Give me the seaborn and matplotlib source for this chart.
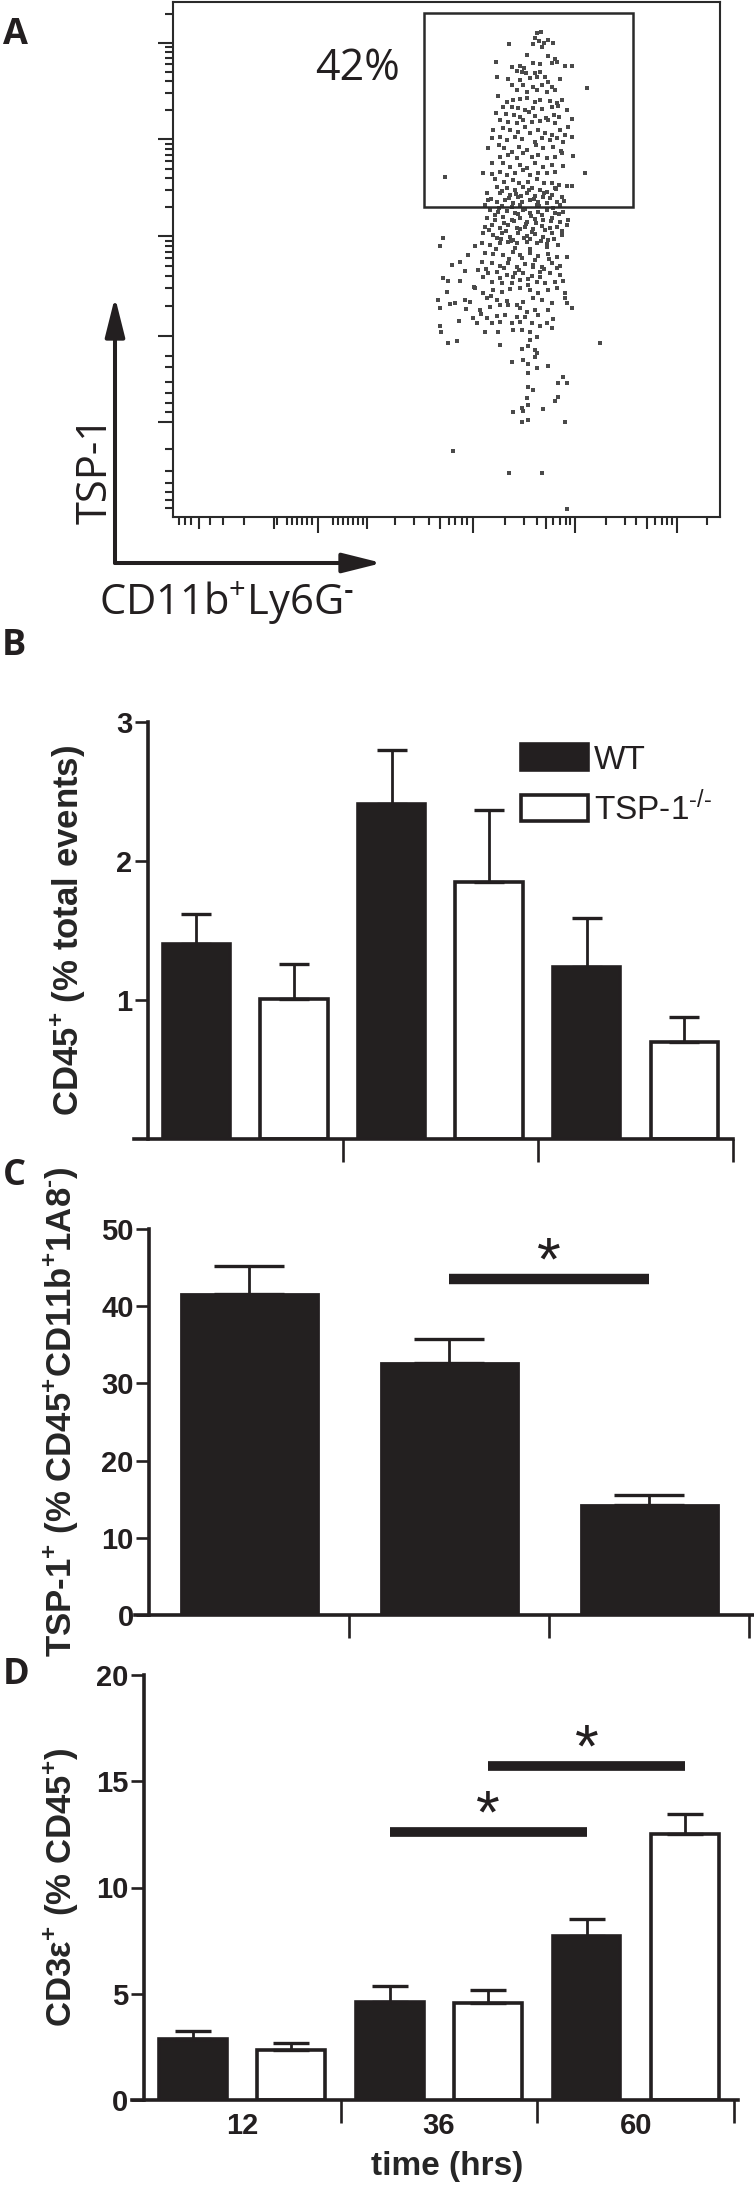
import numpy as np
import pandas as pd
import matplotlib
matplotlib.use("Agg")
import matplotlib.pyplot as plt
from matplotlib import font_manager as fm
from matplotlib.patches import Rectangle, FancyArrowPatch, Patch
import seaborn as sns

# ---------------- data ----------------
# A: flow cytometry events (channel units)
events_x = [
    364, 368, 362, 366, 371, 375, 380, 360, 369, 336,
    354, 375, 382, 384, 379, 323, 360, 367, 347, 339, 351, 392, 399,
    344, 349, 353, 362, 367, 372, 364, 357, 324, 335, 347, 387, 375, 339, 350, 360, 369, 379, 414, 344, 354, 364, 374, 382, 325,
    334, 340, 347, 354, 362, 367, 377, 384, 389, 330, 339, 345, 352, 360, 369, 379, 385, 394,
    323, 333, 341, 347, 356, 362, 373, 381, 386, 399, 327, 335, 344, 350, 359, 367, 375, 382, 395,
    320, 330, 337, 345, 352, 357, 365, 372, 379, 387, 392, 399, 319, 327, 334, 342, 349, 362, 369, 377, 384, 390,
    315, 326, 331, 339, 346, 354, 363, 370, 380, 388, 400, 327, 335, 344, 350, 359, 365, 374, 382, 389,
    319, 330, 337, 347, 354, 362, 370, 379, 390, 310, 319, 327, 334, 342, 350, 357, 365, 374, 382, 412, 272,
    322, 331, 340, 346, 355, 364, 371, 379, 386, 394, 399, 324, 334, 342, 350, 359, 367, 374, 382, 314, 327, 337, 345, 354, 362, 370, 379, 389,
    315, 324, 332, 340, 349, 357, 365, 374, 384, 312, 329, 347, 364, 387,
    317, 325, 334, 342, 350, 357, 365, 374, 382, 390, 314, 322, 330, 339, 347, 354, 362, 370, 379, 387, 395,
    312, 319, 327, 335, 344, 352, 360, 369, 377, 384, 394, 310, 320, 329, 337, 345, 354, 362, 370, 379, 389,
    270, 324, 340, 357, 375,
    267, 302, 309, 317, 327, 335, 344, 354, 364, 374, 385,
    295, 312, 320, 330, 340, 347, 357, 365, 375, 384, 394,
    279, 287, 309, 319, 327, 335, 344, 352, 360, 369, 379, 387,
    292, 305, 315, 324, 334, 342, 350, 359, 367, 377, 387,
    270, 275, 287, 310, 319, 329, 339, 347, 355, 364, 372, 382, 390,
    274, 302, 310, 320, 329, 337, 347, 357, 365, 375, 384, 392,
    265, 277, 282, 292, 297, 314, 324, 334, 344, 350, 360, 369, 379, 392, 394,
    267, 307, 317, 327, 335, 347, 354, 362, 375, 399,
    300, 314, 324, 332, 344, 352, 365, 374, 380, 304, 319, 327, 339, 347, 359, 367,
    267, 268, 312, 325, 340, 349, 357, 379, 364, 357, 275, 284, 327, 355, 349, 362, 364, 427,
    339, 350, 362, 355, 364, 375, 355, 390, 385, 394, 355, 360, 354, 385, 382, 355, 349, 340,
    350, 370, 349, 355, 392, 280,
    336, 369, 394,
    # denser core of the population
    329, 343, 356, 371, 383, 318, 336, 348, 361, 377, 391, 326, 339, 352, 366, 380,
    322, 345, 358, 369, 386, 331, 341, 353, 363, 378, 316, 333, 347, 359, 372, 389,
    328, 338, 351, 368, 381, 323, 342, 357, 374, 336, 349, 362, 376, 313, 331, 346,
    360, 371, 384, 327, 340, 355, 367, 301, 318, 293, 308, 286,
]
events_y = [
    484, 485, 479, 476, 474, 477, 474, 473, 470, 473,
    462, 461, 458, 455, 454, 455, 454, 453, 451, 450, 449, 451, 451,
    446, 445, 444, 444, 445, 440, 440, 439, 440, 438, 437, 438, 435, 432, 432, 430, 432, 430, 429, 427, 425, 427, 425, 427, 421,
    415, 417, 418, 419, 415, 417, 416, 414, 417, 410, 410, 409, 407, 409, 408, 410, 411, 407,
    404, 403, 402, 400, 405, 401, 399, 402, 400, 398, 397, 395, 394, 397, 395, 396, 397, 394, 390,
    387, 389, 387, 385, 390, 384, 387, 384, 382, 387, 382, 380, 379, 380, 377, 380, 378, 375, 379, 377, 379, 375,
    369, 372, 369, 365, 370, 367, 372, 369, 370, 366, 361, 360, 362, 359, 364, 360, 362, 359, 360, 364,
    354, 354, 350, 352, 349, 354, 350, 352, 351, 344, 343, 345, 342, 344, 347, 342, 344, 344, 345, 344, 340,
    338, 335, 337, 334, 335, 338, 334, 334, 332, 331, 331, 330, 329, 327, 330, 329, 327, 325, 329, 324, 324, 322, 320, 324, 321, 320, 322, 320,
    317, 315, 317, 314, 315, 317, 315, 314, 315, 312, 311, 312, 312, 312,
    307, 305, 306, 304, 307, 304, 305, 307, 304, 305, 299, 297, 300, 297, 299, 295, 298, 297, 299, 295, 297,
    290, 292, 289, 292, 289, 290, 288, 291, 289, 290, 292, 284, 282, 284, 280, 284, 281, 283, 280, 284, 282,
    279, 279, 277, 278, 277,
    271, 271, 274, 272, 274, 275, 274, 275, 274, 273, 272,
    262, 264, 263, 262, 265, 262, 264, 261, 263, 260, 260,
    252, 255, 255, 254, 251, 254, 250, 253, 252, 250, 254, 251,
    246, 247, 244, 245, 242, 244, 244, 241, 245, 244, 242,
    239, 236, 236, 240, 235, 234, 234, 237, 232, 235, 234, 235, 236,
    225, 229, 224, 227, 225, 228, 229, 227, 224, 227, 229, 224,
    217, 213, 214, 217, 215, 219, 217, 216, 212, 215, 219, 217, 214, 219, 214,
    209, 207, 210, 212, 212, 209, 205, 207, 207, 209,
    199, 199, 201, 202, 200, 200, 202, 194, 198, 194, 194, 195, 194, 195, 194, 191,
    191, 185, 185, 185, 187, 187, 185, 189, 180, 177, 174, 176, 172, 171, 168, 167, 164, 174,
    155, 157, 160, 153, 149, 151, 144, 140, 134, 134, 130, 127, 119, 120, 116, 112, 109, 105,
    106, 108, 95, 97, 95, 66,
    44, 44, 8,
    326, 323, 327, 324, 328, 318, 319, 321, 318, 319, 316, 309, 310, 308, 311, 309,
    302, 303, 301, 302, 303, 294, 296, 293, 294, 296, 287, 286, 288, 285, 287, 286,
    278, 276, 279, 276, 278, 268, 269, 268, 270, 258, 259, 257, 258, 248, 249, 247,
    250, 248, 249, 239, 240, 238, 240, 230, 221, 208, 203, 196,
]
gate_x = [251, 460]
gate_y = [310, 504]
gate_label = "42%"

# cytometer axis ticks (channel units), long / medium / short
fl_x_long = [145, 300, 402, 504]
fl_x_mid = [26, 101, 194, 267, 373, 474]
fl_x_short = [6, 12, 18, 37, 50, 71, 104, 114, 119, 124, 129, 134, 139, 160, 165, 170,
              175, 180, 185, 190, 222, 241, 256, 276, 282, 289, 294, 332, 351, 364, 380,
              387, 393, 397, 433, 452, 463, 482, 489, 494, 499, 534]
fl_y_long = [95, 181, 281, 378, 474]
fl_y_short = [9, 17, 25, 34, 46, 68, 105, 114, 124, 135, 150, 161, 211, 229, 241, 251,
              259, 265, 271, 276, 310, 327, 339, 348, 356, 362, 368, 373, 407, 424, 436,
              445, 453, 459, 465, 470, 503]

HY = "\u2010"   # short hyphen for superscripts
times = ["12", "36", "60"]
genotypes = ["WT", "TSP-1$^{" + HY + "/" + HY + "}$"]

# B: CD45+ (% total events)
cd45_wt = [1.40, 2.41, 1.24]
cd45_wt_sem = [0.22, 0.39, 0.35]
cd45_ko = [1.01, 1.85, 0.70]
cd45_ko_sem = [0.25, 0.52, 0.18]

# C: TSP-1+ (% CD45+CD11b+1A8-), WT only
tsp1_wt = [41.6, 32.7, 14.3]
tsp1_wt_sem = [3.6, 3.1, 1.3]
sig_c = [(1, 2, 43.5)]          # bar index pair, bar height

# D: CD3e+ (% CD45+)
cd3_wt = [2.85, 4.62, 7.74]
cd3_wt_sem = [0.40, 0.73, 0.79]
cd3_ko = [2.33, 4.57, 12.54]
cd3_ko_sem = [0.35, 0.61, 0.94]
sig_d = [(0, 1, 2, 12.6), (1, 1, 2, 15.7)]   # genotype, bar i, bar j, height

# ---------------- style ----------------
W, H = 754, 2185
INK = "#231f20"
sns.set_style("ticks")
names = {f.name for f in fm.fontManager.ttflist}
NARROW = "Liberation Sans Narrow" if "Liberation Sans Narrow" in names else "Liberation Sans"
plt.rcParams["font.family"] = [NARROW, "DejaVu Sans"]
plt.rcParams["font.weight"] = "bold"
plt.rcParams["mathtext.default"] = "regular"
plt.rcParams["axes.edgecolor"] = INK
plt.rcParams["text.color"] = INK
plt.rcParams["xtick.color"] = INK
plt.rcParams["ytick.color"] = INK

fig = plt.figure(figsize=(W / 100, H / 100), dpi=100)


def fx(x):
    return x / W


def fy(y):
    return 1 - y / H


def add_ax(left, top, right, bottom):
    return fig.add_axes([fx(left), fy(bottom), (right - left) / W, (bottom - top) / H])


def set_tick_lengths(axis, pos_len):
    pos_len = sorted(pos_len)
    axis.set_ticks([p for p, _ in pos_len])
    for tick, (_, ln) in zip(axis.get_major_ticks(len(pos_len)), pos_len):
        tick.tick1line.set_markersize(ln)


def style_bar_axes(ax, ymax, yticks, xlim):
    sns.despine(ax=ax)
    ax.set_xlim(*xlim)
    ax.set_ylim(0, ymax)
    ax.spines["left"].set_position(("data", -0.5))
    for s in ("left", "bottom"):
        ax.spines[s].set_linewidth(2.6)
    ax.set_yticks(yticks)
    ax.set_xticks([0.5, 1.5, 2.5])
    ax.set_xticklabels([])
    ax.tick_params(axis="y", length=9.5, width=1.9, pad=1.5, labelsize=21)
    ax.tick_params(axis="x", which="major", length=16.5, width=1.9)
    ax.set_xlabel("")
    for lab in ax.get_yticklabels():
        lab.set_fontweight("bold")


def add_errors(ax, containers, sems, capsize):
    for cont, err in zip(containers, sems):
        xs = [p.get_x() + p.get_width() / 2 for p in cont]
        tops = [p.get_height() for p in cont]
        ax.errorbar(xs, tops, yerr=[np.zeros(len(err)), err], fmt="none",
                    ecolor=INK, elinewidth=2.0, capsize=capsize, capthick=2.4, zorder=1)


def bar_center(cont, i):
    p = cont[i]
    return p.get_x() + p.get_width() / 2


def add_sig(ax, x0, x1, y, lw):
    ax.plot([x0, x1], [y, y], color=INK, lw=lw, solid_capstyle="butt")
    ax.annotate("*", xy=((x0 + x1) / 2, y), xytext=(0, 0), textcoords="offset points",
                ha="center", va="baseline", fontsize=44, fontweight="normal",
                family="Liberation Sans")


# ---------------- A: dot plot ----------------
axA = add_ax(173, 2, 720, 517)
sns.scatterplot(x=events_x, y=events_y, ax=axA, marker="s", s=6, color="#4a4a4a",
                linewidth=0, legend=False)
axA.set_xlim(0, 547)
axA.set_ylim(0, 515)
for s in axA.spines.values():
    s.set_visible(True)
    s.set_linewidth(1.5)
    s.set_color("#2a2a2a")
axA.tick_params(direction="out", width=1.5, color="#2a2a2a", labelbottom=False, labelleft=False)
set_tick_lengths(axA.xaxis, [(p, 11.5) for p in fl_x_long] + [(p, 8.5) for p in fl_x_mid]
                 + [(p, 5.5) for p in fl_x_short])
set_tick_lengths(axA.yaxis, [(p, 10.5) for p in fl_y_long] + [(p, 5.5) for p in fl_y_short])
axA.add_patch(Rectangle((gate_x[0], gate_y[0]), gate_x[1] - gate_x[0], gate_y[1] - gate_y[0],
                        fill=False, lw=1.8, ec="#2a2a2a"))
axA.text(184, 448, gate_label, ha="center", va="center", fontsize=31,
         family="Open Sans", fontweight="normal", color="#231f20")

for tip in [(115, 297), (382, 563)]:
    fig.add_artist(FancyArrowPatch((fx(115), fy(563)), (fx(tip[0]), fy(tip[1])),
                                   transform=fig.transFigure, mutation_scale=1,
                                   arrowstyle="-|>,head_length=24,head_width=6",
                                   lw=2.9, color=INK, shrinkA=0, shrinkB=0))
fig.text(fx(96), fy(470), "TSP-1", rotation=90, ha="center", va="center", fontsize=30,
         family="Open Sans", fontweight="normal")
fig.text(fx(99), fy(603), "CD11b$^{+}$Ly6G$^{" + HY + "}$", ha="left", va="center",
         fontsize=30, family="Open Sans", fontweight="normal")

for lab, (x, y) in zip("ABCD", [(15, 35), (14, 646), (14, 1176), (16, 1675)]):
    fig.text(fx(x), fy(y), lab, ha="center", va="center", fontsize=26,
             family="Open Sans", fontweight="bold")

pal = {genotypes[0]: INK, genotypes[1]: "white"}

# ---------------- B ----------------
axB = add_ax(134, 722, 733, 1139)
df_b = pd.DataFrame({"time": times * 2, "genotype": [genotypes[0]] * 3 + [genotypes[1]] * 3,
                     "value": cd45_wt + cd45_ko})
sns.barplot(df_b, x="time", y="value", hue="genotype", palette=pal, width=1.0, gap=0.31,
            edgecolor=INK, linewidth=2.6, errorbar=None, ax=axB, legend=False)
add_errors(axB, axB.containers, [cd45_wt_sem, cd45_ko_sem], capsize=11)
style_bar_axes(axB, 3, [1, 2, 3], (-0.57, 2.5))
axB.set_ylabel("CD45$^{+}$ (% total events)", family="Liberation Sans", fontsize=25,
               fontweight="bold", va="center", ha="center")
axB.yaxis.set_label_coords((68 - 134) / 599, 0.5)
handles = [Patch(facecolor=pal[g], edgecolor=INK, lw=2.6) for g in genotypes]
leg = axB.legend(handles, genotypes, loc="upper left", bbox_to_anchor=(fx(521), fy(744)),
                 bbox_transform=fig.transFigure, frameon=False, borderpad=0, borderaxespad=0,
                 handlelength=2.0, handleheight=0.82, handletextpad=0.2, labelspacing=0.45,
                 prop={"family": NARROW, "weight": "normal", "size": 24})

# ---------------- C ----------------
axC = add_ax(135, 1229, 753, 1615)
sns.barplot(x=times, y=tsp1_wt, color=INK, width=0.685, edgecolor=INK, linewidth=2.0,
            errorbar=None, ax=axC)
add_errors(axC, axC.containers, [tsp1_wt_sem], capsize=25)
style_bar_axes(axC, 50, [0, 10, 20, 30, 40, 50], (-0.57, 2.52))
axC.set_ylabel("TSP-1$^{+}$ (% CD45$^{+}$CD11b$^{+}$1A8$^{" + HY + "}$)",
               family="Liberation Sans", fontsize=25, fontweight="bold", va="center", ha="center")
axC.yaxis.set_label_coords((61 - 135) / 618, 0.526)
for i, j, h in sig_c:
    cont = axC.containers[0]
    add_sig(axC, bar_center(cont, i), bar_center(cont, j), h, 7.5)

# ---------------- D ----------------
axD = add_ax(132, 1675, 738, 2100)
df_d = pd.DataFrame({"time": times * 2, "genotype": [genotypes[0]] * 3 + [genotypes[1]] * 3,
                     "value": cd3_wt + cd3_ko})
sns.barplot(df_d, x="time", y="value", hue="genotype", palette=pal, width=1.0, gap=0.31,
            edgecolor=INK, linewidth=2.6, errorbar=None, ax=axD, legend=False)
add_errors(axD, axD.containers, [cd3_wt_sem, cd3_ko_sem], capsize=13)
style_bar_axes(axD, 20, [0, 5, 10, 15, 20], (-0.56, 2.52))
axD.set_xticks([0, 1, 2], minor=True)
axD.set_xticklabels(times, minor=True)
axD.tick_params(axis="x", which="minor", length=0, pad=9, labelsize=21)
axD.set_ylabel("CD3\u03b5$^{+}$ (% CD45$^{+}$)", family="Liberation Sans", fontsize=25,
               fontweight="bold", va="center", ha="center")
axD.yaxis.set_label_coords((60 - 132) / 606, 0.5)
axD.set_xlabel("time (hrs)", fontsize=24, fontweight="bold", va="center", ha="center")
axD.xaxis.set_label_coords((447 - 132) / 606, (2100 - 2167) / 425)
for g, i, j, h in sig_d:
    cont = axD.containers[g]
    add_sig(axD, bar_center(cont, i), bar_center(cont, j), h, 7.0)

fig.savefig("out.png", dpi=100)
